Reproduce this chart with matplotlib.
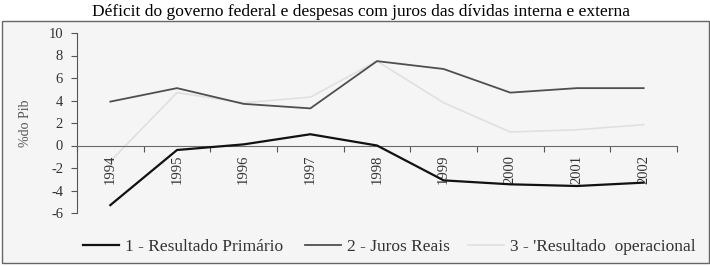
import numpy as np
import matplotlib
matplotlib.use('Agg')
import matplotlib.pyplot as plt
from matplotlib.patches import Rectangle

plt.rcParams['font.family'] = ['Liberation Serif', 'DejaVu Serif']
plt.rcParams['axes.unicode_minus'] = False

anos = ['1994', '1995', '1996', '1997', '1998', '1999', '2000', '2001', '2002']
primario = [-5.3, -0.4, 0.1, 1.0, 0.0, -3.1, -3.45, -3.6, -3.3]
juros = [3.9, 5.1, 3.7, 3.3, 7.5, 6.8, 4.7, 5.1, 5.1]
operacional = [-1.4, 4.7, 3.8, 4.3, 7.5, 3.8, 1.2, 1.4, 1.85]
nomes = ["1 - Resultado Primário", "2 - Juros Reais", "3 - 'Resultado  operacional"]

W, H = 710, 266
fig = plt.figure(figsize=(W / 100, H / 100), dpi=100)
fig.patch.set_facecolor('white')
# moldura cinza do grafico
fig.patches.append(Rectangle((2 / W, 1 - 263 / H), 707 / W, 242 / H, transform=fig.transFigure,
                             facecolor='#f5f5f5', edgecolor='#666666', linewidth=1.0, zorder=-5))
fig.text(361 / W, 1 - 12 / H, 'Déficit do governo federal e despesas com juros das dívidas interna e externa',
         ha='center', va='center', fontsize=12.5)

ax = fig.add_axes([77 / W, 1 - 213 / H, 600 / W, 180 / H])
ax.set_facecolor('none')
x = np.arange(len(anos))
l3, = ax.plot(x, operacional, color='#e0e0e0', lw=1.2, zorder=2)
l2, = ax.plot(x, juros, color='#4f4f4f', lw=1.3, zorder=3)
l1, = ax.plot(x, primario, color='#111111', lw=1.6, zorder=4)

ax.set_xlim(-0.5, len(anos) - 0.5)
ax.set_ylim(-6, 10)
ax.set_yticks(range(-6, 11, 2))
ax.spines['top'].set_visible(False)
ax.spines['right'].set_visible(False)
ax.spines['bottom'].set_position(('data', 0))
ax.spines['bottom'].set_color('#6a6a6a')
ax.spines['left'].set_color('#555555')
ax.set_xticks(np.arange(-0.5, len(anos), 1.0))
ax.set_xticklabels([])
ax.tick_params(axis='x', direction='out', length=4, color='#555555')
ax.tick_params(axis='y', direction='out', length=4, color='#555555', labelsize=10.5,
               labelcolor='#333333', pad=6)
for i, a in enumerate(anos):
    ax.annotate(a, (x[i], 0), xytext=(0, -6.5), textcoords='offset points', rotation=90,
                ha='center', va='top', fontsize=10.5, color='#333333')
ax.set_ylabel('%do Pib', fontsize=10, color='#555555', labelpad=12)

# legenda em tres pedacos, como no original
for linha, nome, px in zip([l1, l2, l3], nomes, [83, 305, 468]):
    leg = fig.legend([linha], [nome], loc='center left', bbox_to_anchor=(px / W, 1 - 247 / H),
                     frameon=False, fontsize=12.5, handlelength=2.1, handletextpad=0.3,
                     borderpad=0, borderaxespad=0)
    for t in leg.get_texts():
        t.set_color('#333333')
        t.set_clip_on(False)

fig.savefig('out.png', dpi=100, facecolor='white')
